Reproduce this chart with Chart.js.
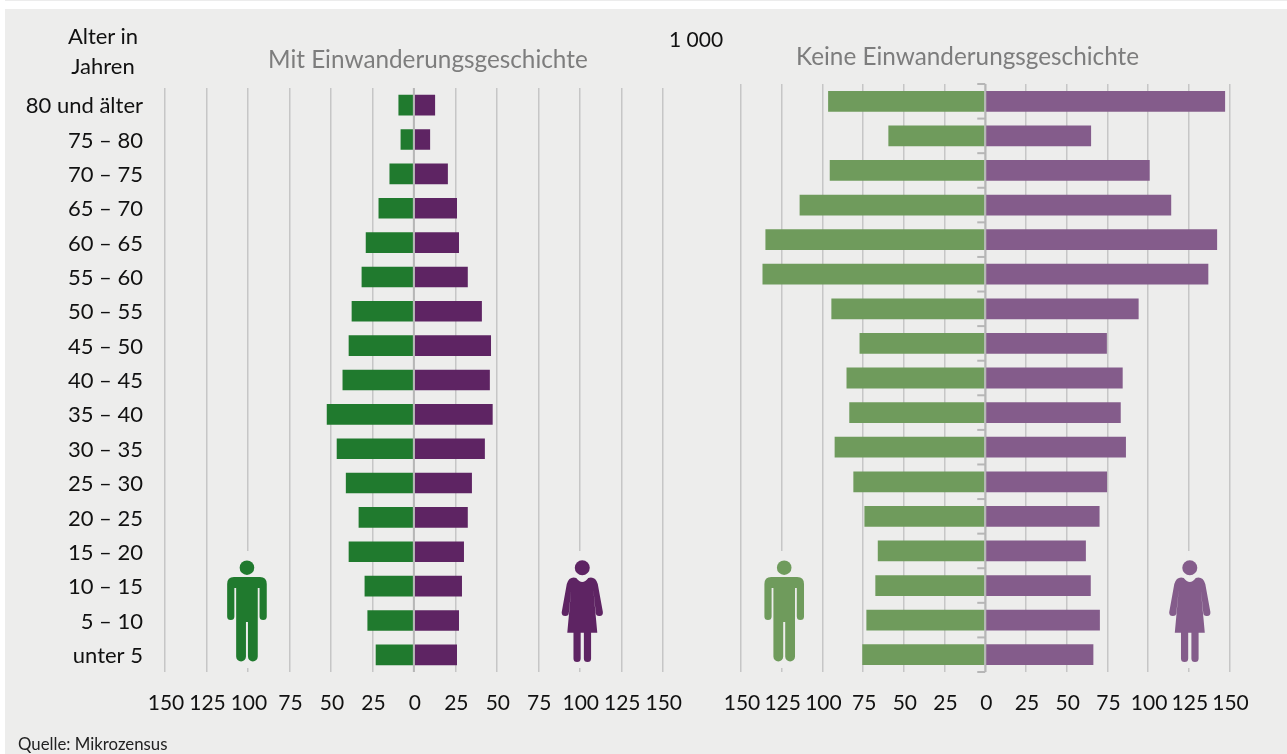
<!DOCTYPE html>
<html lang="de"><head><meta charset="utf-8">
<script src="https://cdn.jsdelivr.net/npm/chart.js@4"></script>
<style>
html,body{margin:0;padding:0;background:#fff;width:1287px;height:754px;overflow:hidden;font-family:Lato,sans-serif}
#strip{position:absolute;left:5px;top:0;width:1282px;height:1px;background:#ececec}
#panel{position:absolute;left:5px;top:9px;width:1282px;height:745px;background:#ededec}
canvas{position:absolute;top:0}
#c1{left:0}#c2{left:700px}
.t{position:absolute;white-space:nowrap;line-height:1}
</style></head><body>
<div id="strip"></div><div id="panel"></div>
<canvas id="c1" width="700" height="740"></canvas>
<canvas id="c2" width="587" height="740"></canvas>
<div class="t" style="left:268px;top:47px;font-size:24.3px;color:#7d7d7d">Mit Einwanderungsgeschichte</div>
<div class="t" style="left:796px;top:44px;font-size:24.3px;color:#7d7d7d">Keine Einwanderungsgeschichte</div>
<div class="t" style="left:669px;top:28px;font-size:21px;color:#111">1 000</div>
<div class="t" style="left:53px;width:100px;top:21px;font-size:22px;color:#111;text-align:center;line-height:30px;white-space:normal">Alter in<br>Jahren</div>
<div class="t" style="left:18px;top:736px;font-size:16.8px;color:#222">Quelle: Mikrozensus</div>
<script>
const ageGroups=["80 und älter","75 – 80","70 – 75","65 – 70","60 – 65","55 – 60","50 – 55","45 – 50","40 – 45","35 – 40","30 – 35","25 – 30","20 – 25","15 – 20","10 – 15","5 – 10","unter 5"];
const mitMaenner=[9.3,8,14.7,21.3,29,31.5,37.5,39.3,43,52.5,46.5,41,33.3,39.3,29.7,28,23];
const mitFrauen=[12.8,9.8,20.5,26,27.2,32.5,41,46.5,45.8,47.5,42.8,35,32.5,30.2,29,27.2,26];
const keineMaenner=[96.5,59.5,95.5,114,135,136.8,94.5,77.2,85.2,83.5,92.5,81,74.2,66,67.5,73,75.5];
const keineFrauen=[147.3,65,101,114.2,142.4,137,94.2,74.7,84.4,83.2,86.4,74.8,70.2,61.8,64.8,70.4,66.4];

const FONT='Lato, sans-serif', BG='#ededec', GRID='#c6c6c6', AXIS='#b6b6b6';

function man(c,x){
  c.beginPath();c.arc(x,567.7,7.3,0,Math.PI*2);c.fill();
  c.beginPath();
  c.moveTo(x-13,577);c.lineTo(x+13,577);
  c.quadraticCurveTo(x+19.8,577,x+19.8,584);
  c.lineTo(x+19.8,616.5);c.arc(x+16.2,616.5,3.6,0,Math.PI);
  c.lineTo(x+12.6,588);c.lineTo(x+10.8,588);
  c.lineTo(x+10.8,656);c.arc(x+5.9,656.5,4.9,0,Math.PI);
  c.lineTo(x+1,622);c.lineTo(x-1,622);
  c.lineTo(x-1,656.5);c.arc(x-5.9,656.5,4.9,0,Math.PI);
  c.lineTo(x-10.8,588);c.lineTo(x-12.6,588);
  c.lineTo(x-12.6,616.5);c.arc(x-16.2,616.5,3.6,0,Math.PI);
  c.lineTo(x-19.8,584);c.quadraticCurveTo(x-19.8,577,x-13,577);
  c.closePath();c.fill();
}
function woman(c,x){
  c.beginPath();c.arc(x,567.7,7.5,0,Math.PI*2);c.fill();
  c.beginPath();
  c.moveTo(x-6,578);c.quadraticCurveTo(x,586,x+6,578);
  c.quadraticCurveTo(x+13,576,x+15.5,584);
  c.lineTo(x+20.6,612);c.arc(x+17,612.5,3.6,-0.1,Math.PI+0.1);
  c.lineTo(x+11,589);c.lineTo(x+15,632.7);
  c.lineTo(x+8.8,632.7);c.lineTo(x+8.8,658.5);c.arc(x+5.2,658.5,3.6,0,Math.PI);
  c.lineTo(x+1.6,632.7);c.lineTo(x-1.6,632.7);c.lineTo(x-1.6,658.5);c.arc(x-5.2,658.5,3.6,0,Math.PI);
  c.lineTo(x-8.8,632.7);c.lineTo(x-15,632.7);c.lineTo(x-11,589);
  c.lineTo(x-13.4,612.5);c.arc(x-17,612.5,3.6,0,Math.PI+0.1);
  c.lineTo(x-15.5,584);c.quadraticCurveTo(x-13,576,x-6,578);
  c.closePath();c.fill();
}
const decor={id:'decor',afterDatasetsDraw(chart,args,o){
  const c=chart.ctx,sx=chart.scales.x,a=chart.chartArea,x0=sx.getPixelForValue(0);
  c.save();
  c.fillStyle=AXIS;
  c.fillRect(x0-1,a.top,2,a.bottom-a.top);
  if(o.ticks){
    const n=ageGroups.length;
    for(let i=0;i<=n;i++){c.fillRect(x0-8,a.top+(a.bottom-a.top)*i/n-1,8,2);}
  }
  const xm=sx.getPixelForValue(-o.iconAt),xf=sx.getPixelForValue(o.iconAt);
  c.fillStyle=BG;
  c.fillRect(xm-2,551,4,117);c.fillRect(xf-2,551,4,117);
  c.fillStyle=o.male;man(c,xm+o.mOff);
  c.fillStyle=o.female;woman(c,xf+o.fOff);
  c.restore();
}};
function make(id,men,women,cm,cf,top,padL,padR,showY,iconAt,mOff,fOff,ticks){
  return new Chart(document.getElementById(id),{
    type:'bar',
    plugins:[decor],
    data:{labels:ageGroups,datasets:[
      {label:'Männer',data:men.map(v=>-v),backgroundColor:cm,barPercentage:0.6,categoryPercentage:1},
      {label:'Frauen',data:women,backgroundColor:cf,barPercentage:0.6,categoryPercentage:1}]},
    options:{indexAxis:'y',responsive:false,animation:false,
      layout:{padding:{top:top,left:padL,right:padR,bottom:0}},
      plugins:{legend:{display:false},title:{display:false},tooltip:{enabled:false},
        decor:{iconAt,mOff,fOff,ticks,male:cm,female:cf}},
      scales:{
        x:{stacked:true,min:-150,max:150,
          grid:{color:GRID,lineWidth:1.5,drawTicks:false},border:{display:false},
          afterFit(s){s.height=68;},
          ticks:{stepSize:25,autoSkip:false,maxRotation:0,padding:19,labelOffset:1,color:'#111',font:{family:FONT,size:21},callback:v=>Math.abs(v)}},
        y:{stacked:true,display:showY,grid:{display:false,drawTicks:false},border:{display:false},
          afterFit(s){if(showY)s.width=165;},
          ticks:{padding:22,labelOffset:1,color:'#111',autoSkip:false,font:{family:FONT,size:22}}}
      }}});
}
make('c1',mitMaenner,mitFrauen,'#207a2e','#5e2463',88,0,35,true,100,-1,2.5,false);
make('c2',keineMaenner,keineFrauen,'#6f9b5c','#845c8b',84,41,57.5,false,125,2.5,1,true);
</script></body></html>
